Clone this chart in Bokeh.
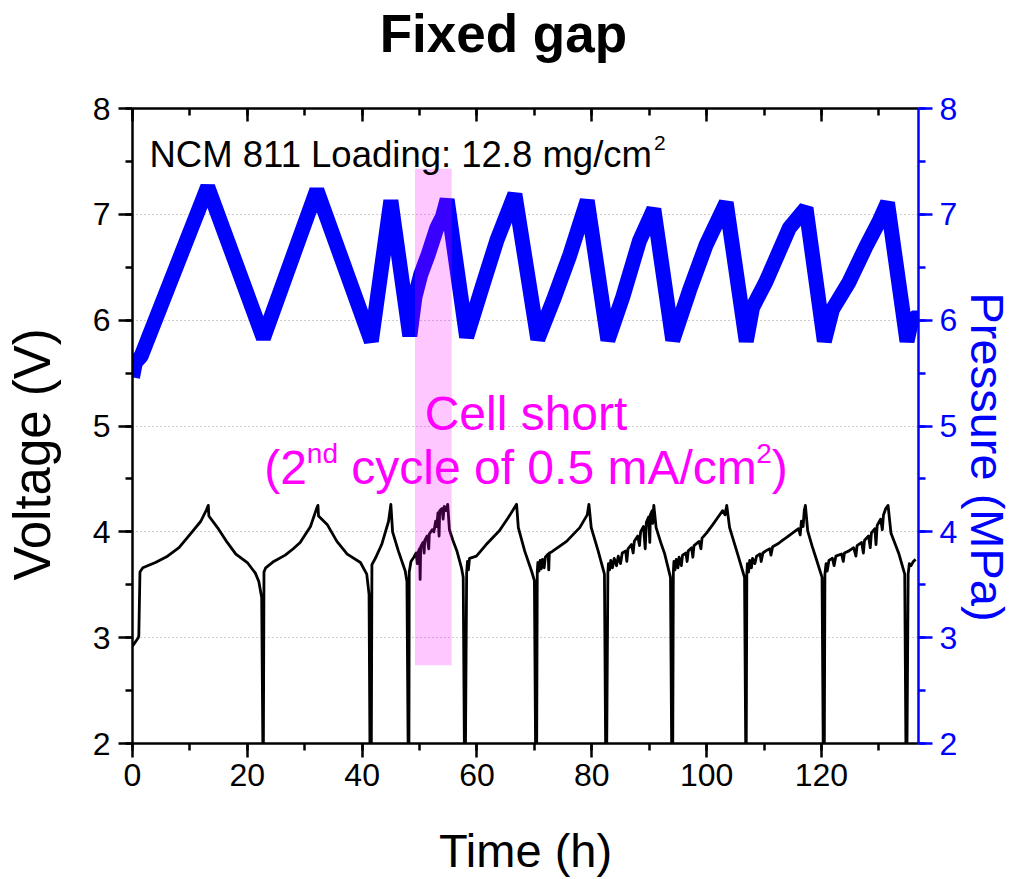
import math
from bokeh.plotting import figure
from bokeh.models import (Range1d, LinearAxis, SingleIntervalTicker, Label, Title,
                          CustomJSTickFormatter)
from bokeh.embed import file_html
from bokeh.resources import INLINE

# ---------------- data ----------------
# Voltage (V) vs time (h), cycle by cycle
c1_t = [0, 1.0, 1.1, 1.3, 1.8, 4.0, 6.1, 8.1, 10.1, 11.9, 12.9, 13.2, 13.3, 14.8, 16.5, 18.0, 20.0, 21.4, 22.0, 22.5, 22.7, 22.8]
c1_v = [2.92, 3.00, 3.02, 3.62, 3.66, 3.71, 3.77, 3.85, 3.98, 4.10, 4.21, 4.25, 4.15, 4.04, 3.90, 3.79, 3.71, 3.61, 3.53, 3.38, 2.0, 2.0]
c2_t = [22.9, 23.2, 24.6, 26.6, 28.0, 29.2, 31.0, 32.0, 32.3, 32.4, 33.9, 35.6, 37.4, 39.7, 40.8, 41.2, 41.35, 41.6]
c2_v = [3.62, 3.66, 3.72, 3.78, 3.84, 3.90, 4.05, 4.21, 4.25, 4.15, 4.07, 3.91, 3.79, 3.71, 3.60, 3.41, 2.0, 2.0]
c3_t = [41.7, 42.3, 43.4, 44.6, 45.0, 45.3, 46.3, 47.5, 47.8, 48.0, 48.15]
c3_v = [3.69, 3.75, 3.88, 4.10, 4.26, 4.00, 3.82, 3.63, 3.53, 2.0, 2.0]
c4_t = [48.2, 48.5, 49.0, 49.4, 49.6, 49.7, 50.0, 50.1, 50.2, 50.6, 50.8, 50.9, 51.3, 51.6, 51.7, 52.2, 52.5, 52.8, 53.0,
        53.2, 53.4, 53.5, 53.9, 54.1, 54.3, 54.6, 54.9, 55.2, 55.8, 56.5, 57.3, 57.6, 57.8, 58.0]
c4_v = [3.62, 3.72, 3.76, 3.80, 3.70, 3.80, 3.84, 3.55, 3.86, 3.90, 3.80, 3.92, 3.96, 3.84, 3.98, 4.02, 4.00, 4.10, 4.05,
        4.18, 3.96, 4.20, 4.22, 4.12, 4.24, 4.20, 4.26, 4.02, 3.92, 3.82, 3.66, 3.57, 2.0, 2.0]
c5_t = [58.2, 58.35, 58.5, 58.7, 59.9, 61.6, 63.9, 65.4, 66.9, 67.2, 68.3, 69.5, 70.0, 70.2, 70.4]
c5_v = [3.62, 3.72, 3.64, 3.75, 3.77, 3.88, 4.01, 4.13, 4.26, 4.04, 3.82, 3.63, 3.54, 2.0, 2.0]
c6_t = [70.5, 70.6, 70.8, 71.0, 71.2, 71.4, 71.7, 71.9, 72.4, 72.5, 72.6, 73.0, 75.6, 77.9, 79.2, 79.5, 79.9, 81.1, 82.2, 82.4, 82.6]
c6_v = [3.62, 3.71, 3.63, 3.73, 3.65, 3.74, 3.66, 3.76, 3.79, 3.64, 3.80, 3.81, 3.91, 4.04, 4.16, 4.26, 4.04, 3.82, 3.60, 2.0, 2.0]
c7_t = [82.8, 82.9, 83.1, 83.3, 83.6, 83.9, 84.3, 84.6, 85.0, 85.3, 85.9, 86.1, 86.3, 86.9, 87.2, 87.4, 88.0, 88.3, 88.5,
        89.0, 89.3, 89.5, 89.9, 90.1, 90.2, 90.5, 90.6, 90.8, 91.2, 92.0, 92.7, 93.7, 93.9, 94.1]
c7_v = [3.62, 3.70, 3.64, 3.73, 3.66, 3.75, 3.68, 3.77, 3.70, 3.80, 3.82, 3.72, 3.84, 3.88, 3.80, 3.91, 3.96, 3.87, 4.00,
        4.05, 3.84, 4.09, 4.14, 3.90, 4.16, 4.20, 4.08, 4.25, 4.04, 3.90, 3.79, 3.57, 2.0, 2.0]
c8_t = [94.2, 94.3, 94.5, 94.7, 95.0, 95.2, 95.6, 95.8, 96.4, 96.6, 96.8, 97.4, 97.6, 97.8, 98.7, 99.0, 99.2, 100.0, 101.1,
        102.0, 102.8, 103.2, 103.5, 104.0, 105.4, 106.6, 106.8, 106.9]
c8_v = [3.62, 3.72, 3.64, 3.74, 3.66, 3.76, 3.68, 3.78, 3.80, 3.72, 3.82, 3.85, 3.76, 3.87, 3.91, 3.84, 3.94, 3.99, 4.07,
        4.14, 4.20, 4.16, 4.25, 4.04, 3.79, 3.57, 2.0, 2.0]
c9_t = [107.0, 107.1, 107.3, 107.5, 107.8, 108.0, 108.4, 108.7, 109.3, 109.5, 109.8, 110.3, 111.0, 111.2, 111.5, 112.5,
        113.2, 114.0, 115.0, 116.0, 116.3, 116.5, 116.8, 117.0, 117.2, 117.6, 118.4, 119.0, 120.1, 120.3, 120.5]
c9_v = [3.60, 3.70, 3.62, 3.73, 3.66, 3.75, 3.70, 3.77, 3.79, 3.72, 3.80, 3.82, 3.84, 3.78, 3.86, 3.89,
        3.92, 3.95, 3.99, 4.03, 3.97, 4.10, 4.05, 4.20, 4.25, 4.01, 3.86, 3.76, 3.57, 2.0, 2.0]
c10_t = [120.6, 120.8, 121.0, 121.3, 121.9, 122.2, 122.5, 123.5, 123.8, 124.0, 124.8, 125.6, 126.0, 126.2, 127.0, 127.3,
         127.5, 128.2, 128.5, 128.7, 129.3, 129.5, 129.7, 130.3, 130.6, 130.8, 131.2, 131.6, 132.1, 133.5, 134.5, 134.7, 134.9]
c10_v = [3.60, 3.70, 3.63, 3.73, 3.75, 3.68, 3.77, 3.79, 3.72, 3.80, 3.82, 3.85, 3.77, 3.87, 3.90, 3.80,
         3.92, 3.96, 3.85, 3.99, 4.03, 3.88, 4.06, 4.12, 4.02, 4.16, 4.22, 4.25, 3.99, 3.79, 3.60, 2.0, 2.0]
c11_t = [135.1, 135.3, 135.6, 136.0, 136.4]
c11_v = [3.60, 3.70, 3.68, 3.72, 3.74]

volt_t = c1_t + c2_t + c3_t + c4_t + c5_t + c6_t + c7_t + c8_t + c9_t + c10_t + c11_t
volt_v = c1_v + c2_v + c3_v + c4_v + c5_v + c6_v + c7_v + c8_v + c9_v + c10_v + c11_v

# Pressure (MPa) vs time (h)
pres_t = [0, 0.5, 1.5, 13.1, 22.8, 32.1, 41.6, 45.0, 48.3, 49.2, 50.2, 51.5, 53.0, 54.0, 54.8, 58.2, 61.0, 63.5, 66.6,
          70.6, 73.3, 76.2, 79.2, 82.8, 85.4, 88.3, 90.8, 94.1, 97.0, 99.9, 103.4, 106.9, 108.0, 110.3, 114.4, 117.3,
          120.5, 121.9, 124.8, 127.7, 130.0, 131.5, 134.9, 135.8, 137.0]
pres_p = [5.46, 5.60, 5.66, 7.26, 5.83, 7.23, 5.80, 7.13, 5.85, 6.22, 6.43, 6.62, 6.87, 6.98, 7.14, 5.84, 6.33, 6.76, 7.19,
          5.82, 6.19, 6.62, 7.13, 5.81, 6.22, 6.75, 7.05, 5.81, 6.28, 6.71, 7.11, 5.80, 6.12, 6.36, 6.87, 7.06,
          5.80, 6.10, 6.36, 6.69, 6.93, 7.11, 5.80, 6.02, 6.02]

# highlighted cell-short window
short_left = [49.2]
short_right = [55.6]
short_bottom = [2.74]
short_top = [7.43]

x_ticks_interval = 20
y_ticks_interval = 1

# ---------------- figure ----------------
FONT = "Liberation Sans"
NB = "\u00a0"
W, H = 1015, 879
BL, BR, BT, BB = 132, 96, 107, 136
FW, FH = W - BL - BR, H - BT - BB
X0, X1, Y0, Y1 = 0, 136.9, 2, 8

p = figure(width=W, height=H, x_range=Range1d(X0, X1), y_range=Range1d(Y0, Y1),
           output_backend="svg", toolbar_location=None,
           min_border_left=BL, min_border_right=BR, min_border_top=BT, min_border_bottom=BB)
p.extra_y_ranges = {"pres": Range1d(Y0, Y1)}
p.outline_line_color = None
p.background_fill_color = "white"
p.border_fill_color = "white"

def px_t(px):
    return X0 + (px - BL) / FW * (X1 - X0)

def py_v(py):
    return Y1 - (py - BT) / FH * (Y1 - Y0)

# axes styling
def style_axis(ax, color, tick_in=0, tick_out=14, minor_in=0, minor_out=7):
    ax.axis_line_color = color
    ax.axis_line_width = 2.5
    ax.major_tick_line_color = color
    ax.minor_tick_line_color = color
    ax.major_tick_line_width = 2.5
    ax.minor_tick_line_width = 2.5
    ax.major_tick_in = tick_in
    ax.major_tick_out = tick_out
    ax.minor_tick_in = minor_in
    ax.minor_tick_out = minor_out
    ax.major_label_text_color = color
    ax.major_label_text_font = FONT
    ax.major_label_text_font_size = "32px"
    ax.axis_label_text_font = FONT
    ax.axis_label_text_font_style = "normal"
    ax.axis_label_text_color = color

xt = SingleIntervalTicker(interval=x_ticks_interval, num_minor_ticks=2)
yt = SingleIntervalTicker(interval=y_ticks_interval, num_minor_ticks=2)

# bottom axis
p.xaxis.ticker = xt
style_axis(p.xaxis[0], "black")
p.xaxis.major_label_standoff = 6
p.xaxis.axis_label = "Time (h)"
p.xaxis.axis_label_text_font_size = "47px"
p.xaxis.axis_label_standoff = 35

# left axis (label padded with no-break spaces so it sits lower, as in the reference)
p.yaxis.ticker = yt
style_axis(p.yaxis[0], "black")
p.yaxis.major_label_standoff = 8
p.yaxis.axis_label = "Voltage (V)" + NB * 4
p.yaxis.axis_label_text_font_size = "51px"
p.yaxis.axis_label_standoff = 29

# top axis carries the chart title
top = LinearAxis(ticker=SingleIntervalTicker(interval=x_ticks_interval, num_minor_ticks=2),
                 formatter=CustomJSTickFormatter(code="return ''"))
style_axis(top, "black", tick_in=13, tick_out=0, minor_in=7, minor_out=0)
top.axis_label = "Fixed gap" + NB * 3
top.axis_label_text_font_size = "53px"
top.axis_label_text_font_style = "bold"
top.axis_label_standoff = 46
p.add_layout(top, "above")

# right axis (pressure)
right = LinearAxis(y_range_name="pres", ticker=SingleIntervalTicker(interval=y_ticks_interval, num_minor_ticks=2))
style_axis(right, "#0000FF")
right.major_label_standoff = 7
p.add_layout(right, "right")
p.add_layout(Title(text="Pressure (MPa)", align="left", offset=184,
                   text_font=FONT, text_font_size="47px", text_font_style="normal",
                   text_color="#0000FF", standoff=0), "right")

p.xgrid.visible = False
p.ygrid.ticker = yt
p.ygrid.grid_line_color = "#9a9a9a"
p.ygrid.grid_line_dash = "1 3"
p.ygrid.grid_line_width = 1.2

# data lines
p.line(pres_t, pres_p, y_range_name="pres", line_color="#0000FF", line_width=15, line_join="bevel")
p.line(volt_t, volt_v, line_color="black", line_width=2.8, line_join="round")

# pink highlight on top
p.quad(left=short_left, right=short_right, bottom=short_bottom, top=short_top,
       fill_color="#FF00FF", fill_alpha=0.22, line_color=None)

# ---------------- in-plot texts ----------------
AW = {' ': 278, '(': 333, ')': 333, '.': 278, '/': 278, ':': 278, '0': 556, '1': 556, '2': 556, '3': 556, '4': 556,
      '5': 556, '6': 556, '7': 556, '8': 556, '9': 556, 'A': 667, 'C': 722, 'L': 556, 'M': 833, 'N': 722,
      'a': 556, 'c': 500, 'd': 556, 'e': 556, 'f': 278, 'g': 556, 'h': 556, 'i': 222, 'l': 222, 'm': 833,
      'n': 556, 'o': 556, 'r': 333, 's': 500, 't': 278, 'y': 500}

def tw(s, size):
    return sum(AW.get(c, 556) for c in s) / 1000.0 * size

def add_text(text, px, py, size, color="black", align="left"):
    p.add_layout(Label(x=px_t(px), y=py_v(py), text=text, text_font=FONT, text_font_size=f"{size}px",
                       text_color=color, text_align=align, text_baseline="alphabetic"))

def add_runs(runs, left_px, base_py, color):
    x = left_px
    for s, size, raise_px in runs:
        stripped = s.lstrip(" ")
        lead = tw(s[:len(s) - len(stripped)], size)
        add_text(stripped, x + lead, base_py - raise_px, size, color)
        x += tw(s, size)

# loading annotation
add_runs([("NCM 811 Loading: 12.8 mg/cm", 36.5, 0), ("2", 21, 11)], 149, 153, "black")
# cell short annotation
add_text("Cell short", 526, 412, 48, color="#FF00FF", align="center")
runs2 = [("(2", 48, 0), ("nd", 28, 14), (" cycle of 0.5 mA/cm", 48, 0), ("2", 28, 14), (")", 48, 0)]
total2 = sum(tw(s, sz) for s, sz, _ in runs2)
add_runs(runs2, 526 - total2 / 2, 467, "#FF00FF")

open("out.html", "w").write(file_html(p, INLINE))
